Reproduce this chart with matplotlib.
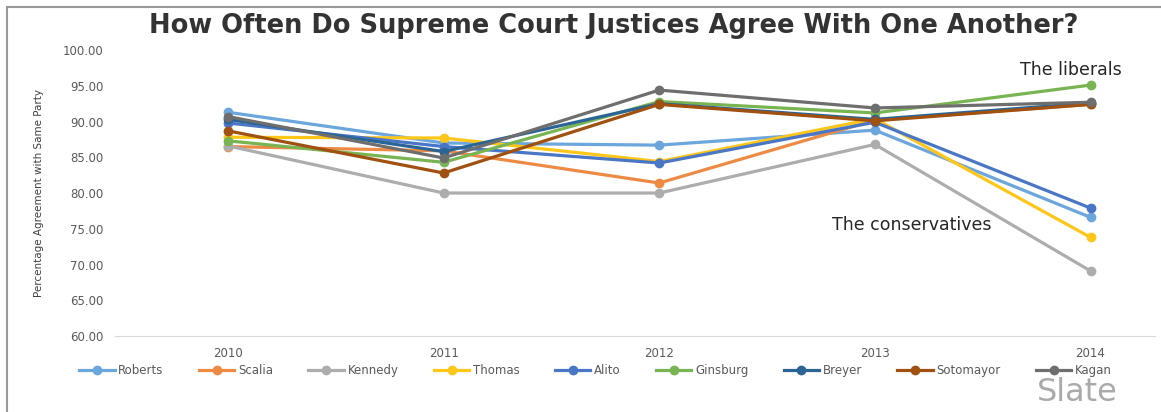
import matplotlib
matplotlib.use("Agg")
import matplotlib.pyplot as plt
from matplotlib.patches import Rectangle

years = [2010, 2011, 2012, 2013, 2014]
justices = ["Roberts", "Scalia", "Kennedy", "Thomas", "Alito",
            "Ginsburg", "Breyer", "Sotomayor", "Kagan"]

roberts = [91.3, 87.0, 86.7, 88.8, 76.6]
scalia = [86.5, 85.9, 81.4, 90.2, 92.4]
kennedy = [86.6, 80.0, 80.0, 86.8, 69.1]
thomas = [87.8, 87.7, 84.4, 90.4, 73.8]
alito = [89.8, 86.5, 84.2, 89.9, 77.9]
ginsburg = [87.3, 84.3, 92.8, 91.2, 95.1]
breyer = [90.3, 85.8, 92.5, 90.3, 92.6]
sotomayor = [88.7, 82.8, 92.4, 90.1, 92.4]
kagan = [90.7, 84.9, 94.4, 91.9, 92.7]

series = [roberts, scalia, kennedy, thomas, alito,
          ginsburg, breyer, sotomayor, kagan]
colors = ["#6BA6DC", "#ED8B45", "#ADADAD", "#FFC61A", "#4A76C6",
          "#79B452", "#2A6596", "#A0500F", "#6E6E6E"]

fig = plt.figure(figsize=(11.61, 4.12), dpi=100)
ax = fig.add_axes([0.099, 0.1845, 0.896, 0.694])

for name, vals, c in zip(justices, series, colors):
    ax.plot(years, vals, color=c, linewidth=2.3, marker="o", markersize=6,
            label=name)

ax.set_ylim(60, 100)
ax.set_xlim(2009.476, 2014.30)
ax.set_yticks(range(60, 101, 5))
ax.set_yticklabels([f"{v:.2f}" for v in range(60, 101, 5)])
ax.set_xticks(years)
ax.tick_params(axis="both", length=0, colors="#595959", labelsize=8.5)
ax.tick_params(axis="y", pad=8)
ax.tick_params(axis="x", pad=8)
for side in ["top", "right", "left"]:
    ax.spines[side].set_visible(False)
ax.spines["bottom"].set_color("#D9D9D9")

ax.set_ylabel("Percentage Agreement with Same Party", fontsize=7.5,
              color="#404040")
ax.yaxis.set_label_coords(-0.068, 0.5)

ax.text(2013.907, 97.2, "The liberals", fontsize=12.5, color="#262626",
        ha="center", va="center")
ax.text(2013.17, 75.5, "The conservatives", fontsize=12.5, color="#262626",
        ha="center", va="center")

fig.text(0.529, 0.937, "How Often Do Supreme Court Justices Agree With One Another?",
         ha="center", va="center", fontsize=18.5, fontweight="bold",
         color="#333333")

fig.legend(loc="center", bbox_to_anchor=(0.513, 0.1), ncol=9, frameon=False,
           fontsize=8.5, handlelength=3, columnspacing=3.0, handletextpad=0.3,
           labelcolor="#595959")

fig.text(0.928, 0.047, "Slate", ha="center", va="center", fontsize=23,
         color="#AAAAAA")

# grey frame around the chart
fig.patches.append(Rectangle((0.006, -0.1), 1.1, 1.083, transform=fig.transFigure,
                             fill=False, edgecolor="#999999", linewidth=1.5))

fig.savefig("out.png", dpi=100, facecolor="white")
